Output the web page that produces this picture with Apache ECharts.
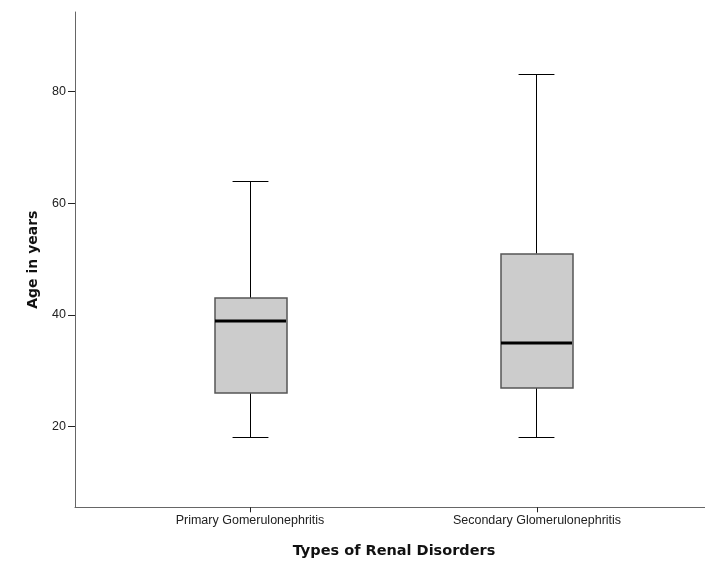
<!DOCTYPE html>
<html>
<head>
<meta charset="utf-8">
<script src="https://cdn.jsdelivr.net/npm/echarts@6/dist/echarts.min.js"></script>
<style>
  html, body { margin: 0; padding: 0; background: #fff; }
  #chart { width: 705px; height: 568px; }
</style>
</head>
<body>
<div id="chart"></div>
<script>
// box plot values (years)
const categories = ['Primary Gomerulonephritis', 'Secondary Glomerulonephritis'];
const whiskerLow = [18, 18];
const q1 = [26, 27];
const median = [39, 35];
const q3 = [43, 51];
const whiskerHigh = [64, 83];
const yTicks = [20, 40, 60, 80];
const xPositions = [1, 2];

const rows = categories.map((c, i) => [xPositions[i], whiskerLow[i], q1[i], median[i], q3[i], whiskerHigh[i]]);

const chart = echarts.init(document.getElementById('chart'));

// snap to half pixels so 1px lines stay sharp
const crisp = v => Math.round(v - 0.5) + 0.5;

function renderBox(params, api) {
  const x = api.value(0);
  const lo = api.coord([x, api.value(1)]);
  const b1 = api.coord([x, api.value(2)]);
  const md = api.coord([x, api.value(3)]);
  const b3 = api.coord([x, api.value(4)]);
  const hi = api.coord([x, api.value(5)]);
  const boxW = api.size([0.25, 0])[0];
  const capW = boxW / 2;
  const cx = crisp(lo[0]);
  const line = (x1, y1, x2, y2, w, c) => ({
    type: 'line',
    shape: { x1: x1, y1: y1, x2: x2, y2: y2 },
    style: { stroke: c, lineWidth: w }
  });
  const yHi = crisp(hi[1]), yLo = crisp(lo[1]);
  return {
    type: 'group',
    children: [
      line(cx, yHi, cx, b3[1], 1, '#000'),
      line(cx, b1[1], cx, yLo, 1, '#000'),
      line(cx - capW / 2, yHi, cx + capW / 2, yHi, 1, '#000'),
      line(cx - capW / 2, yLo, cx + capW / 2, yLo, 1, '#000'),
      {
        type: 'rect',
        shape: { x: Math.round(cx - boxW / 2), y: Math.round(b3[1]), width: Math.round(boxW), height: Math.round(b1[1] - b3[1]) },
        style: { fill: '#cccccc', stroke: '#555', lineWidth: 1.5 }
      },
      line(Math.round(cx - boxW / 2), Math.round(md[1]), Math.round(cx + boxW / 2), Math.round(md[1]), 3, '#000')
    ]
  };
}

chart.setOption({
  animation: false,
  backgroundColor: '#fff',
  grid: { left: 75, right: 0, top: 12, bottom: 60.7 },
  xAxis: {
    type: 'value',
    min: 0.3902,
    max: 2.5854,
    name: 'Types of Renal Disorders',
    nameLocation: 'middle',
    nameGap: 36,
    nameTextStyle: { fontFamily: 'DejaVu Sans', fontWeight: 'bold', fontSize: 14.5, color: '#111', padding: [0, 0, 0, 8] },
    splitLine: { show: false },
    axisLine: { show: true, lineStyle: { color: '#666', width: 1 } },
    axisTick: { show: true, customValues: xPositions, length: 5, lineStyle: { color: '#222' } },
    axisLabel: {
      customValues: xPositions,
      margin: 7,
      fontFamily: 'Liberation Sans',
      fontSize: 12.5,
      color: '#222',
      formatter: v => categories[xPositions.indexOf(v)] || ''
    }
  },
  yAxis: {
    type: 'value',
    min: 5.56,
    max: 94.27,
    name: 'Age in years',
    nameLocation: 'middle',
    nameGap: 35,
    nameTextStyle: { fontFamily: 'DejaVu Sans', fontWeight: 'bold', fontSize: 14, color: '#111' },
    splitLine: { show: false },
    axisLine: { show: true, lineStyle: { color: '#666', width: 1 } },
    axisTick: { show: true, customValues: yTicks, length: 7, lineStyle: { color: '#222' } },
    axisLabel: {
      customValues: yTicks,
      margin: 9,
      fontFamily: 'Liberation Sans',
      fontSize: 12.5,
      color: '#222'
    }
  },
  series: [{
    type: 'custom',
    renderItem: renderBox,
    encode: { x: 0, y: [1, 2, 3, 4, 5] },
    data: rows
  }]
});
</script>
</body>
</html>
